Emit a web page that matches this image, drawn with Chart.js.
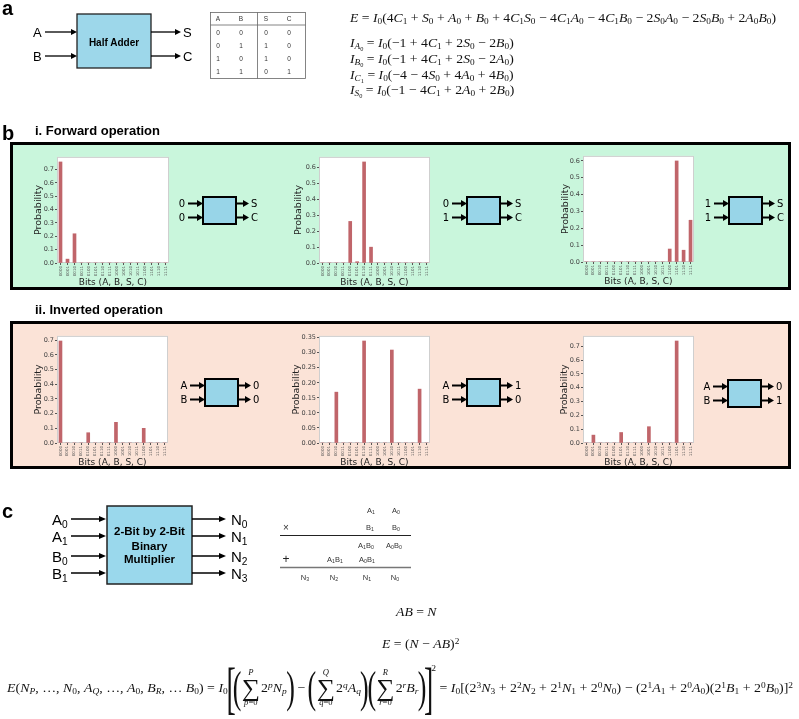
<!DOCTYPE html>
<html>
<head>
<meta charset="utf-8">
<script src="https://cdn.jsdelivr.net/npm/chart.js@4.4.1/dist/chart.umd.min.js"></script>
<style>
  body { margin: 0; background: #fff; }
  #page { position: relative; width: 799px; height: 719px; overflow: hidden; background: #fff; }
  .panel { position: absolute; box-sizing: border-box; border: 3px solid #000; }
  canvas { position: absolute; z-index: 2; }
  #art { position: absolute; left: 0; top: 0; z-index: 3; pointer-events: none; }
  .eq { position: absolute; white-space: nowrap; font-family: "Liberation Serif", serif; font-size: 13px; line-height: 16px; color: #111; transform-origin: left center; z-index: 4; }
  .eq sub { font-size: 68%; vertical-align: -0.28em; line-height: 0; }
  .eq sup { font-size: 68%; vertical-align: 0.5em; line-height: 0; }
  .row { display: flex; align-items: center; }
  .sum { display: inline-flex; flex-direction: column; align-items: center; line-height: 1; margin: 0 1px; }
  .sum .lim { font-size: 8px; }
  .sum .sig { font-size: 24px; line-height: 22px; }
  .bigp { font-size: 44px; line-height: 44px; font-weight: 300; display: inline-block; transform: scaleX(0.55); margin: 0 -4px; }
  .bigb { font-size: 58px; line-height: 58px; font-weight: 300; display: inline-block; transform: scaleX(0.45); margin: 0 -7px; }
</style>
</head>
<body>
<div id="page">
  <div class="panel" style="left:10px;top:142px;width:781px;height:148px;background:#c9f6dc;"></div>
  <div class="panel" style="left:10px;top:321px;width:781px;height:148px;background:#fbe3d7;"></div>
  <svg id="art" width="799" height="719"></svg>

  <div class="eq" id="eqE" style="left:350px;top:10px;"></div>
  <div class="eq" id="eqIA" style="left:350px;top:35px;"></div>
  <div class="eq" id="eqIB" style="left:350px;top:51px;"></div>
  <div class="eq" id="eqIC" style="left:350px;top:67px;"></div>
  <div class="eq" id="eqIS" style="left:350px;top:82px;"></div>

  <div class="eq" id="eqAB" style="left:396px;top:604px;"></div>
  <div class="eq" id="eqEN" style="left:382px;top:636px;"></div>
  <div class="eq row" id="eqLong" style="left:7px;top:658px;height:60px;"></div>
</div>

<script>
// categories: the 16 states of (A, B, S, C)
const bits = ["0000", "0001", "0010", "0011", "0100", "0101", "0110", "0111",
              "1000", "1001", "1010", "1011", "1100", "1101", "1110", "1111"];

// i. forward operation, inputs (A,B) = (0,0), (0,1), (1,1)
const fwd00 = [0.757, 0.029, 0.219, 0, 0, 0, 0, 0, 0, 0, 0, 0, 0, 0, 0, 0];
const fwd01 = [0, 0, 0, 0, 0.26, 0.008, 0.632, 0.099, 0, 0, 0, 0, 0, 0, 0, 0];
const fwd11 = [0, 0, 0, 0, 0, 0, 0, 0, 0, 0, 0, 0, 0.077, 0.60, 0.07, 0.248];

// ii. inverted operation, outputs (S,C) = (0,0), (1,0), (0,1)
const inv00 = [0.695, 0, 0, 0, 0.07, 0, 0, 0, 0.141, 0, 0, 0, 0.10, 0, 0, 0];
const inv10 = [0, 0, 0.169, 0, 0, 0, 0.339, 0, 0, 0, 0.309, 0, 0, 0, 0.179, 0];
const inv01 = [0, 0.057, 0, 0, 0, 0.076, 0, 0, 0, 0.118, 0, 0, 0, 0.738, 0, 0];

const barColor = "#c0656a";

const plotBg = {
  id: "plotBg",
  beforeDraw(chart) {
    const { ctx, chartArea: a } = chart;
    ctx.save();
    ctx.fillStyle = "#fff";
    ctx.fillRect(a.left, a.top, a.width, a.height);
    ctx.strokeStyle = "#cfcfcf";
    ctx.lineWidth = 1;
    ctx.strokeRect(a.left + 0.5, a.top + 0.5, a.width - 1, a.height - 1);
    ctx.restore();
  }
};

// plot rectangles [left, top, width, height] in page pixels
const panels = [
  { values: fwd00, plot: [57, 155, 112, 108], step: 0.1, dec: 1, yw: 30 },
  { values: fwd01, plot: [319, 155, 111, 108], step: 0.1, dec: 1, yw: 32 },
  { values: fwd11, plot: [583, 154, 111, 108], step: 0.1, dec: 1, yw: 29 },
  { values: inv00, plot: [57, 334, 111, 109], step: 0.1, dec: 1, yw: 30 },
  { values: inv10, plot: [319, 334, 111, 109], step: 0.05, dec: 2, yw: 34 },
  { values: inv01, plot: [583, 334, 111, 109], step: 0.1, dec: 1, yw: 30 }
];

const X_H = 26, PAD = 3;
const page = document.getElementById("page");

function makeChart(p) {
  const [px, py, pw, ph] = p.plot;
  const canvas = document.createElement("canvas");
  canvas.width = pw + p.yw + PAD;
  canvas.height = ph + PAD + X_H;
  canvas.style.left = (px - p.yw) + "px";
  canvas.style.top = (py - PAD) + "px";
  page.appendChild(canvas);

  new Chart(canvas, {
    type: "bar",
    data: {
      labels: bits,
      datasets: [{ data: p.values, backgroundColor: barColor, barThickness: 3, borderWidth: 0 }]
    },
    options: {
      responsive: false,
      animation: false,
      layout: { padding: { top: PAD, right: PAD, left: 0, bottom: 0 } },
      plugins: { legend: { display: false }, tooltip: { enabled: false } },
      scales: {
        x: {
          grid: { drawOnChartArea: false, offset: false, tickLength: 2, color: "#555" },
          border: { display: false },
          ticks: { autoSkip: false, minRotation: 90, maxRotation: 90, padding: 1,
                   color: "#555", font: { family: "DejaVu Sans", size: 4 } },
          title: { display: true, text: "Bits (A, B, S, C)", color: "#222",
                   font: { family: "DejaVu Sans", size: 9 }, padding: { top: 0, bottom: 1 } },
          afterFit: (s) => { s.height = X_H; }
        },
        y: {
          min: 0,
          max: Math.max(...p.values) * 1.05,
          grid: { drawOnChartArea: false, tickLength: 2, color: "#555" },
          border: { display: false },
          ticks: { stepSize: p.step, includeBounds: false, padding: 1, color: "#444",
                   font: { family: "DejaVu Sans", size: 6.5 }, callback: (v) => v.toFixed(p.dec) },
          title: { display: true, text: "Probability", color: "#222",
                   font: { family: "DejaVu Sans", size: 9.5 }, padding: { top: 6, bottom: 0 } },
          afterFit: (s) => { s.width = p.yw; }
        }
      }
    },
    plugins: [plotBg]
  });
}
panels.forEach(makeChart);

// ---------- diagrams ----------
function arrow(x1, y, x2, sw, hl, hw) {
  return `<line x1="${x1}" y1="${y}" x2="${x2 - hl + 1}" y2="${y}" stroke="#000" stroke-width="${sw}"/>` +
         `<polygon points="${x2 - hl},${y - hw} ${x2},${y} ${x2 - hl},${y + hw}" fill="#000"/>`;
}
function txt(x, y, s, size, opts = {}) {
  const fam = opts.family || "Liberation Sans";
  const anchor = opts.anchor || "start";
  const weight = opts.bold ? "bold" : "normal";
  const fill = opts.fill || "#000";
  return `<text x="${x}" y="${y}" font-family="${fam}" font-size="${size}" font-weight="${weight}" ` +
         `text-anchor="${anchor}" dominant-baseline="central" fill="${fill}">${s}</text>`;
}
function sub(base, s, size) {
  return `${base}<tspan dy="${size * 0.3}" font-size="${size * 0.68}">${s}</tspan>`;
}

function gate(x, y, ins, outs) {
  const w = 33, h = 27;
  let g = `<rect x="${x}" y="${y}" width="${w}" height="${h}" fill="#98d5e8" stroke="#000" stroke-width="2"/>`;
  [y + 6.5, y + 20.5].forEach((yy, k) => {
    g += arrow(x - 15, yy, x, 2, 6, 3.5);
    g += txt(x - 21, yy, ins[k], 10, { family: "DejaVu Sans", anchor: "middle" });
    g += arrow(x + w, yy, x + w + 13, 2, 6, 3.5);
    g += txt(x + w + 15, yy, outs[k], 10, { family: "DejaVu Sans" });
  });
  return g;
}

let svg = "";
// panel letters and headings
svg += `<text x="2" y="15" font-family="Liberation Sans" font-weight="bold" font-size="20">a</text>`;
svg += `<text x="2" y="140" font-family="Liberation Sans" font-weight="bold" font-size="20">b</text>`;
svg += `<text x="2" y="518" font-family="Liberation Sans" font-weight="bold" font-size="20">c</text>`;
svg += `<text x="35" y="134.5" font-family="Liberation Sans" font-weight="bold" font-size="13">i. Forward operation</text>`;
svg += `<text x="35" y="313.5" font-family="Liberation Sans" font-weight="bold" font-size="13">ii. Inverted operation</text>`;

// half adder
svg += `<rect x="77" y="14" width="74" height="54" fill="#9dd7ea" stroke="#222" stroke-width="1.3"/>`;
svg += txt(114, 42, "Half Adder", 10, { bold: true, anchor: "middle" });
svg += txt(33, 32, "A", 13) + arrow(45, 32, 77, 1.3, 6, 3);
svg += txt(33, 56, "B", 13) + arrow(45, 56, 77, 1.3, 6, 3);
svg += arrow(151, 32, 181, 1.3, 6, 3) + txt(183, 32, "S", 13);
svg += arrow(151, 56, 181, 1.3, 6, 3) + txt(183, 56, "C", 13);

// truth table
svg += `<rect x="210.5" y="12.5" width="95" height="66" fill="none" stroke="#666" stroke-width="0.8"/>`;
svg += `<line x1="210.5" y1="25" x2="305.5" y2="25" stroke="#666" stroke-width="0.8"/>`;
svg += `<line x1="257.5" y1="12.5" x2="257.5" y2="78.5" stroke="#666" stroke-width="0.8"/>`;
const ttCols = [218, 241, 266, 289];
const ttRows = [["A", "B", "S", "C"], ["0", "0", "0", "0"], ["0", "1", "1", "0"], ["1", "0", "1", "0"], ["1", "1", "0", "1"]];
const ttY = [18.5, 32, 45, 58, 71];
ttRows.forEach((r, i) => r.forEach((s, j) => { svg += txt(ttCols[j], ttY[i], s, 6.5, { anchor: "middle", fill: "#333" }); }));

// gates
svg += gate(203, 197, ["0", "0"], ["S", "C"]);
svg += gate(467, 197, ["0", "1"], ["S", "C"]);
svg += gate(729, 197, ["1", "1"], ["S", "C"]);
svg += gate(205, 379, ["A", "B"], ["0", "0"]);
svg += gate(467, 379, ["A", "B"], ["1", "0"]);
svg += gate(728, 380, ["A", "B"], ["0", "1"]);

// multiplier
svg += `<rect x="107" y="506" width="85" height="78" fill="#9ad8ec" stroke="#222" stroke-width="1.5"/>`;
svg += txt(149.5, 531, "2-Bit by 2-Bit", 11.5, { bold: true, anchor: "middle" });
svg += txt(149.5, 545.5, "Binary", 11.5, { bold: true, anchor: "middle" });
svg += txt(149.5, 559, "Multiplier", 11.5, { bold: true, anchor: "middle" });
const mIn = [["A", "0", 519], ["A", "1", 536], ["B", "0", 556], ["B", "1", 573]];
mIn.forEach(([b, s, y]) => {
  svg += `<text x="52" y="${y}" font-family="Liberation Sans" font-size="15" dominant-baseline="central">${sub(b, s, 15)}</text>`;
  svg += arrow(71, y, 106, 1.5, 7, 3);
});
const mOut = [["0", 519], ["1", 536], ["2", 556], ["3", 573]];
mOut.forEach(([s, y]) => {
  svg += arrow(192, y, 226, 1.5, 7, 3);
  svg += `<text x="231" y="${y}" font-family="Liberation Sans" font-size="15" dominant-baseline="central">${sub("N", s, 15)}</text>`;
});

// long multiplication
function mt(x, y, parts) {
  let s = `<text x="${x}" y="${y}" font-family="Liberation Sans" font-size="7.5" text-anchor="middle" dominant-baseline="central" fill="#333">`;
  parts.forEach(([b, n], k) => {
    s += `<tspan dy="${k ? -2 : 0}">${b}</tspan><tspan dy="2" font-size="5.2">${n}</tspan>`;
  });
  return s + "</text>";
}
svg += mt(371, 510, [["A", "1"]]) + mt(396, 510, [["A", "0"]]);
svg += txt(286, 527, "×", 10, { anchor: "middle", fill: "#333" });
svg += mt(370, 527, [["B", "1"]]) + mt(396, 527, [["B", "0"]]);
svg += `<line x1="280" y1="535.5" x2="411" y2="535.5" stroke="#222" stroke-width="1"/>`;
svg += mt(366, 545, [["A", "1"], ["B", "0"]]) + mt(394, 545, [["A", "0"], ["B", "0"]]);
svg += txt(286, 559, "+", 12, { anchor: "middle", fill: "#222" });
svg += mt(335, 559, [["A", "1"], ["B", "1"]]) + mt(367, 559, [["A", "0"], ["B", "1"]]);
svg += `<line x1="280" y1="567.5" x2="411" y2="567.5" stroke="#777" stroke-width="1.5"/>`;
svg += mt(305, 577, [["N", "3"]]) + mt(334, 577, [["N", "2"]]) + mt(367, 577, [["N", "1"]]) + mt(395, 577, [["N", "0"]]);

document.getElementById("art").innerHTML = svg;

// ---------- equations ----------
function m(s) {
  let out = "", i = 0;
  function grp() {
    if (s[i] === "{") {
      let d = 1, j = i + 1;
      while (d) { if (s[j] === "{") d++; else if (s[j] === "}") d--; j++; }
      const inner = s.slice(i + 1, j - 1);
      i = j;
      return m(inner);
    }
    return m(s[i++]);
  }
  while (i < s.length) {
    const c = s[i];
    if (c === "_") { i++; out += "<sub>" + grp() + "</sub>"; }
    else if (c === "^") { i++; out += "<sup>" + grp() + "</sup>"; }
    else if (/[A-Za-z]/.test(c)) { out += "<i>" + c + "</i>"; i++; }
    else if (c === "-") { out += "−"; i++; }
    else { out += c; i++; }
  }
  return out;
}

document.getElementById("eqE").innerHTML = m("E = I_0(4C_1 + S_0 + A_0 + B_0 + 4C_1S_0 - 4C_1A_0 - 4C_1B_0 - 2S_0A_0 - 2S_0B_0 + 2A_0B_0)");
document.getElementById("eqIA").innerHTML = m("I_{A_0} = I_0(-1 + 4C_1 + 2S_0 - 2B_0)");
document.getElementById("eqIB").innerHTML = m("I_{B_0} = I_0(-1 + 4C_1 + 2S_0 - 2A_0)");
document.getElementById("eqIC").innerHTML = m("I_{C_1} = I_0(-4 - 4S_0 + 4A_0 + 4B_0)");
document.getElementById("eqIS").innerHTML = m("I_{S_0} = I_0(-1 - 4C_1 + 2A_0 + 2B_0)");
document.getElementById("eqAB").innerHTML = m("AB = N");
document.getElementById("eqEN").innerHTML = m("E = (N - AB)^2");

function sumHTML(top, bot) {
  return `<span class="sum"><span class="lim">${m(top)}</span><span class="sig">∑</span><span class="lim">${m(bot)}</span></span>`;
}
const P = (c) => `<span class="bigp">${c}</span>`;
const B = (c) => `<span class="bigb">${c}</span>`;
document.getElementById("eqLong").innerHTML =
  `<span>${m("E(N_P, …, N_0, A_Q, …, A_0, B_R, … B_0) = I_0")}</span>` +
  B("[") + P("(") + sumHTML("P", "p=0") + `<span>${m("2^pN_p")}</span>` + P(")") +
  `<span>&nbsp;−&nbsp;</span>` +
  P("(") + sumHTML("Q", "q=0") + `<span>${m("2^qA_q")}</span>` + P(")") +
  P("(") + sumHTML("R", "r=0") + `<span>${m("2^rB_r")}</span>` + P(")") +
  B("]") + `<span style="align-self:flex-start;margin-top:2px;font-size:9px">2</span>` +
  `<span>&nbsp;${m("= I_0[(2^3N_3 + 2^2N_2 + 2^1N_1 + 2^0N_0) - (2^1A_1 + 2^0A_0)(2^1B_1 + 2^0B_0)]^2")}</span>`;

// stretch equations to the widths they take in the figure
function fitW(id, w) {
  const el = document.getElementById(id);
  const cur = el.getBoundingClientRect().width;
  el.style.transform = `scaleX(${w / cur})`;
}
fitW("eqE", 426);
fitW("eqLong", 786);
const eScale = 426 / document.getElementById("eqE").scrollWidth;
["eqIA", "eqIB", "eqIC", "eqIS", "eqAB", "eqEN"].forEach((id) => {
  document.getElementById(id).style.transform = `scaleX(${eScale})`;
});
</script>
</body>
</html>
